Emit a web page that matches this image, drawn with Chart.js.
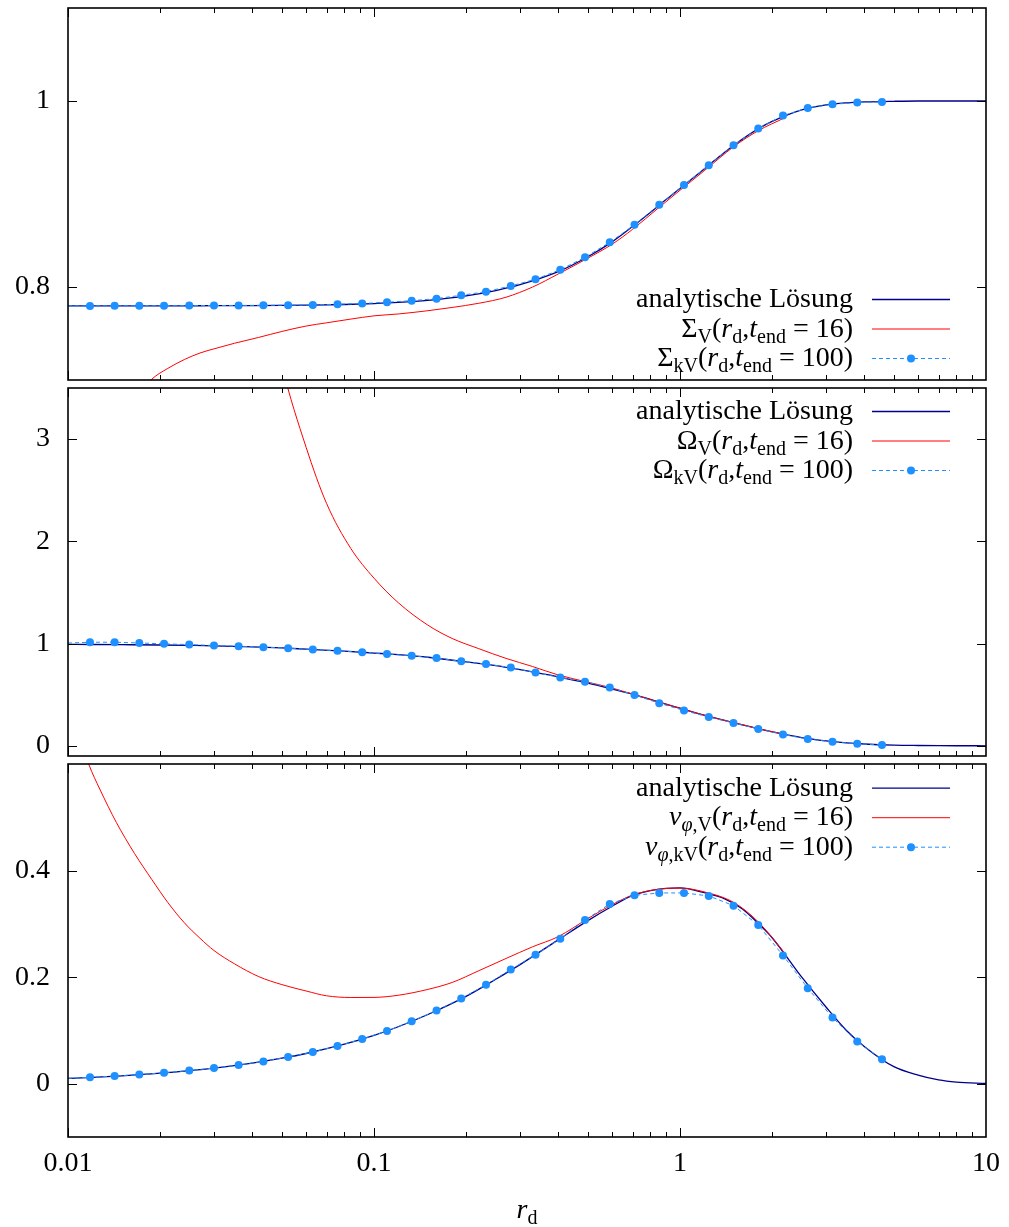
<!DOCTYPE html>
<html>
<head>
<meta charset="utf-8">
<script src="https://cdn.jsdelivr.net/npm/chart.js@4.4.1/dist/chart.umd.min.js"></script>
<style>
  body { margin: 0; background: #fff; }
  canvas { position: absolute; left: 0; }
</style>
</head>
<body>
<canvas id="cSigma" width="1009" height="384" style="top:0px"></canvas>
<canvas id="cOmega" width="1009" height="376" style="top:384px"></canvas>
<canvas id="cVphi" width="1009" height="467" style="top:760px"></canvas>
<script>
// --- data ---
// analytic solution
const rAna = [0.01, 0.012, 0.015, 0.02, 0.025, 0.03, 0.04, 0.05, 0.06, 0.08, 0.1, 0.12, 0.15, 0.2, 0.25, 0.3, 0.4, 0.5, 0.6, 0.7, 0.8, 0.9, 1.0, 1.2, 1.4, 1.6, 1.8, 2.0, 2.5, 3.0, 3.5, 4.0, 5.0, 6.0, 7.0, 8.0, 10];
const sigmaAna = [0.7796, 0.7796, 0.7797, 0.7797, 0.7798, 0.7799, 0.7800, 0.7802, 0.7805, 0.7812, 0.7822, 0.7834, 0.7857, 0.7905, 0.7962, 0.8025, 0.8165, 0.8325, 0.8485, 0.865, 0.880, 0.894, 0.906, 0.927, 0.945, 0.959, 0.970, 0.978, 0.9905, 0.9958, 0.998, 0.999, 0.9997, 1.0, 1.0, 1.0, 1.0];
const omegaAna = [0.992, 0.991, 0.989, 0.986, 0.982, 0.978, 0.968, 0.957, 0.945, 0.926, 0.907, 0.891, 0.866, 0.820, 0.785, 0.745, 0.675, 0.612, 0.555, 0.505, 0.453, 0.407, 0.3675, 0.299, 0.248, 0.205, 0.167, 0.137, 0.080, 0.048, 0.0286, 0.0175, 0.0064, 0.0027, 0.001, 0.0004, 0.0];
const vphiAna = [0.0099, 0.0119, 0.0148, 0.0197, 0.0246, 0.0293, 0.0387, 0.0479, 0.0567, 0.0741, 0.0907, 0.1069, 0.1299, 0.164, 0.196, 0.2235, 0.270, 0.306, 0.333, 0.3535, 0.3625, 0.3665, 0.3675, 0.3585, 0.347, 0.328, 0.301, 0.274, 0.200, 0.144, 0.100, 0.070, 0.032, 0.016, 0.007, 0.003, 0.0005];

// viscous run, t_end = 16
const rV = [0.0105, 0.0117, 0.0127, 0.0144, 0.0165, 0.0188, 0.0212, 0.024, 0.027, 0.03, 0.035, 0.042, 0.05, 0.06, 0.07, 0.084, 0.1, 0.12, 0.15, 0.18, 0.22, 0.27, 0.33, 0.4, 0.5, 0.6, 0.7, 0.85, 1.0, 1.2, 1.5, 1.8, 2.2];
const sigmaV = [0.59, 0.62, 0.64, 0.66, 0.68, 0.701, 0.7125, 0.722, 0.729, 0.7335, 0.7395, 0.7458, 0.7522, 0.758, 0.7615, 0.7655, 0.769, 0.771, 0.7745, 0.778, 0.7825, 0.789, 0.800, 0.814, 0.831, 0.846, 0.862, 0.885, 0.904, 0.925, 0.951, 0.968, 0.982];
const omegaV = [64.8, 51.2, 43.5, 34.0, 26.2, 20.4, 16.0, 12.6, 10.1, 8.33, 6.43, 4.79, 3.72, 2.92, 2.37, 1.93, 1.64, 1.40, 1.18, 1.05, 0.95, 0.855, 0.775, 0.693, 0.622, 0.565, 0.505, 0.428, 0.367, 0.298, 0.226, 0.168, 0.111];
const vphiV = [0.68, 0.599, 0.553, 0.490, 0.432, 0.383, 0.340, 0.302, 0.273, 0.250, 0.225, 0.201, 0.186, 0.174, 0.165, 0.1618, 0.162, 0.166, 0.177, 0.190, 0.212, 0.235, 0.257, 0.276, 0.310, 0.336, 0.354, 0.365, 0.367, 0.360, 0.340, 0.304, 0.245];

// kV run, t_end = 100 (first entry has no marker)
const rKV = [0.01, 0.0118, 0.0142, 0.0171, 0.0206, 0.0249, 0.0300, 0.0361, 0.0435, 0.0524, 0.0631, 0.0760, 0.0915, 0.1103, 0.1328, 0.1601, 0.1928, 0.2323, 0.2799, 0.3372, 0.4062, 0.4893, 0.5895, 0.7102, 0.8555, 1.0306, 1.2416, 1.4957, 1.8018, 2.1706, 2.6149, 3.150, 3.795, 4.572];
const sigmaKV = [0.7797, 0.7797, 0.7798, 0.7798, 0.7799, 0.7800, 0.7801, 0.7802, 0.7803, 0.7805, 0.7807, 0.7815, 0.7822, 0.7836, 0.7853, 0.7875, 0.7911, 0.795, 0.8011, 0.8083, 0.8186, 0.8319, 0.848, 0.8669, 0.8884, 0.9098, 0.931, 0.9525, 0.9703, 0.9843, 0.9925, 0.9965, 0.9983, 0.999];
const omegaKV = [1.005, 1.013, 1.013, 1.006, 0.997, 0.990, 0.981, 0.974, 0.965, 0.955, 0.942, 0.929, 0.916, 0.897, 0.881, 0.858, 0.826, 0.800, 0.765, 0.716, 0.668, 0.626, 0.571, 0.497, 0.416, 0.345, 0.281, 0.223, 0.165, 0.110, 0.066, 0.039, 0.020, 0.008];
const vphiKV = [0.0101, 0.0120, 0.0144, 0.0172, 0.0206, 0.0246, 0.0294, 0.0351, 0.0419, 0.0500, 0.0594, 0.0706, 0.0838, 0.0989, 0.1172, 0.1373, 0.1599, 0.1856, 0.2144, 0.2420, 0.2721, 0.3072, 0.3373, 0.3536, 0.3580, 0.3580, 0.3524, 0.3342, 0.2978, 0.2408, 0.1793, 0.1241, 0.0790, 0.0458];

// axes
const xTicks = [0.01, 0.1, 1, 10];
const xTickLabels = ['0.01', '0.1', '1', '10'];
const yTicksSigma = [0.8, 1];
const yTicksOmega = [0, 1, 2, 3];
const yTicksVphi = [0, 0.2, 0.4];

const FONT = '"Liberation Serif", "Times New Roman", serif';
const ANA_COLOR = '#00008b';
const V_COLOR = '#ff0000';
const KV_COLOR = '#1e90ff';

function pts(xs, ys) {
  return xs.map((x, i) => ({ x: x, y: ys[i] }));
}

// rich text (italics + subscripts) for the math labels
function segFont(s) {
  return (s.it ? 'italic ' : '') + (s.sub ? 20 : 28) + 'px ' + FONT;
}
function richWidth(ctx, segs) {
  let w = 0;
  segs.forEach(s => { ctx.font = segFont(s); w += ctx.measureText(s.t).width; });
  return w;
}
function drawRich(ctx, segs, x, y) {
  segs.forEach(s => {
    ctx.font = segFont(s);
    ctx.fillText(s.t, x, y + (s.sub ? 6 : 0));
    x += ctx.measureText(s.t).width;
  });
}
function mathRow(sym, symIt, sub, subIt, tval) {
  const head = [{ t: sym, it: symIt }];
  if (subIt) head.push({ t: 'φ', sub: 1, it: 1 }, { t: ',' + sub, sub: 1 });
  else head.push({ t: sub, sub: 1 });
  return head.concat([
    { t: '(' }, { t: 'r', it: 1 }, { t: 'd', sub: 1 }, { t: ',' },
    { t: 't', it: 1 }, { t: 'end', sub: 1 }, { t: ' = ' + tval + ')' }
  ]);
}

const richLegend = {
  id: 'richLegend',
  afterDraw(chart, args, opts) {
    const ctx = chart.ctx, a = chart.chartArea;
    ctx.save();
    ctx.fillStyle = '#000';
    ctx.textBaseline = 'alphabetic';
    opts.rows.forEach((segs, i) => {
      const yc = a.top + opts.top + i * 29.5;
      drawRich(ctx, segs, 853 - richWidth(ctx, segs), yc + 8);
      const ds = chart.data.datasets[i];
      ctx.strokeStyle = ds.borderColor;
      ctx.lineWidth = ds.borderWidth;
      ctx.setLineDash(ds.borderDash || []);
      ctx.beginPath();
      ctx.moveTo(872, yc + 0.5);
      ctx.lineTo(950, yc + 0.5);
      ctx.stroke();
      ctx.setLineDash([]);
      if (ds.pointBackgroundColor) {
        ctx.fillStyle = ds.pointBackgroundColor;
        ctx.beginPath();
        ctx.arc(911, yc + 0.5, 4, 0, Math.PI * 2);
        ctx.fill();
        ctx.fillStyle = '#000';
      }
    });
    if (opts.axisTitle) {
      const segs = [{ t: 'r', it: 1 }, { t: 'd', sub: 1 }];
      drawRich(ctx, segs, 527 - richWidth(ctx, segs) / 2, 458);
    }
    ctx.restore();
  }
};

// gnuplot style frame with inward ticks on all sides
const frame = {
  id: 'frame',
  afterDatasetsDraw(chart, args, opts) {
    const ctx = chart.ctx, a = chart.chartArea;
    const x = chart.scales.x, y = chart.scales.y;
    ctx.save();
    ctx.strokeStyle = '#000';
    ctx.lineWidth = 1;
    ctx.beginPath();
    xTicks.slice(0, -1).forEach(d => {
      for (let m = 1; m < 10; m++) {
        const px = Math.round(x.getPixelForValue(d * m)) + 0.5;
        const len = m === 1 ? 9 : 5;
        ctx.moveTo(px, a.bottom); ctx.lineTo(px, a.bottom - len);
        ctx.moveTo(px, a.top); ctx.lineTo(px, a.top + len);
      }
    });
    opts.yTicks.forEach(v => {
      const py = Math.round(y.getPixelForValue(v)) + 0.5;
      ctx.moveTo(a.left, py); ctx.lineTo(a.left + 9, py);
      ctx.moveTo(a.right, py); ctx.lineTo(a.right - 9, py);
    });
    ctx.stroke();
    ctx.lineWidth = 1.6;
    ctx.strokeRect(a.left, a.top, a.right - a.left, a.bottom - a.top);
    ctx.restore();
  }
};

function makePanel(id, ana, v, kv, yMin, yMax, yTicks, legendRows, legendTop, pad, showX) {
  new Chart(document.getElementById(id), {
    type: 'line',
    data: {
      datasets: [
        { data: pts(rAna, ana), borderColor: ANA_COLOR, borderWidth: 1.3, pointRadius: 0,
          cubicInterpolationMode: 'monotone', order: 3 },
        { data: pts(rV, v), borderColor: V_COLOR, borderWidth: 1, pointRadius: 0,
          cubicInterpolationMode: 'monotone', order: 2 },
        { data: pts(rKV, kv), borderColor: KV_COLOR, borderWidth: 1, borderDash: [4, 3],
          pointRadius: c => c.dataIndex === 0 ? 0 : 4, pointBackgroundColor: KV_COLOR,
          pointBorderWidth: 0, tension: 0, order: 1 }
      ]
    },
    options: {
      responsive: false,
      animation: false,
      events: [],
      layout: { padding: pad },
      scales: {
        x: {
          type: 'logarithmic', min: 0.01, max: 10, display: showX,
          afterBuildTicks: s => { s.ticks = xTicks.map(t => ({ value: t })); },
          afterFit: s => { s.height = showX ? 90 : 0; s.paddingLeft = 0; s.paddingRight = 0; },
          ticks: { font: { family: FONT, size: 28 }, color: '#000', padding: 10, maxRotation: 0,
                   autoSkip: false, callback: t => xTickLabels[xTicks.indexOf(t)] },
          grid: { display: false, drawTicks: false },
          border: { display: false }
        },
        y: {
          min: yMin, max: yMax,
          afterBuildTicks: s => { s.ticks = yTicks.map(t => ({ value: t })); },
          afterFit: s => { s.width = 68; s.paddingTop = 0; s.paddingBottom = 0; },
          ticks: { font: { family: FONT, size: 28 }, color: '#000', padding: 18,
                   callback: t => String(t) },
          grid: { display: false, drawTicks: false },
          border: { display: false }
        }
      },
      plugins: {
        legend: { display: false },
        tooltip: { enabled: false },
        frame: { yTicks: yTicks },
        richLegend: { rows: legendRows, top: legendTop, axisTitle: showX }
      }
    },
    plugins: [frame, richLegend]
  });
}

makePanel('cSigma', sigmaAna, sigmaV, sigmaKV, 0.7, 1.1, yTicksSigma,
  [[{ t: 'analytische Lösung' }], mathRow('Σ', 0, 'V', 0, '16'), mathRow('Σ', 0, 'kV', 0, '100')],
  291, { top: 8, bottom: 4, left: 0, right: 23 }, false);

makePanel('cOmega', omegaAna, omegaV, omegaKV, -0.1, 3.5, yTicksOmega,
  [[{ t: 'analytische Lösung' }], mathRow('Ω', 0, 'V', 0, '16'), mathRow('Ω', 0, 'kV', 0, '100')],
  23, { top: 2, bottom: 2, left: 0, right: 23 }, false);

makePanel('cVphi', vphiAna, vphiV, vphiKV, -0.1, 0.6, yTicksVphi,
  [[{ t: 'analytische Lösung' }], mathRow('v', 1, 'V', 1, '16'), mathRow('v', 1, 'kV', 1, '100')],
  23.7, { top: 4, bottom: 0, left: 0, right: 23 }, true);
</script>
</body>
</html>
